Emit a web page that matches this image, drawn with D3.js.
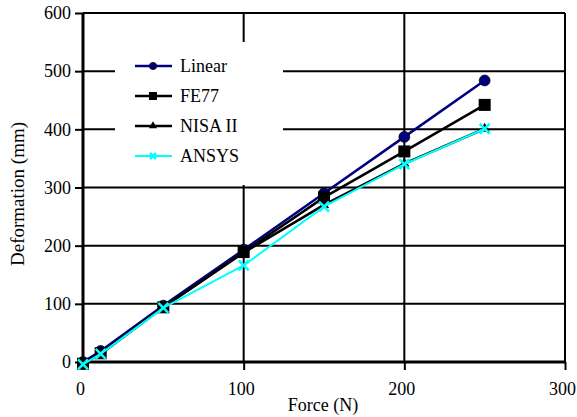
<!DOCTYPE html>
<html>
<head>
<meta charset="utf-8">
<script src="https://cdn.jsdelivr.net/npm/d3@7"></script>
<style>
  body { margin: 0; background: #fff; }
</style>
</head>
<body>
<script>
// data
const force = [0, 11, 50, 100, 150, 200, 250];
const linear = [0, 19, 97, 193, 290, 387, 484];
const fe77 = [-3, 15, 94, 189, 283, 362, 442];
const nisa = [-3, 14, 94, 188, 270, 341, 401];
const ansys = [-4, 14, 93, 166, 267, 340, 401];
const seriesNames = ["Linear", "FE77", "NISA II", "ANSYS"];
const xTicks = [0, 100, 200, 300];
const yTicks = [0, 100, 200, 300, 400, 500, 600];

const font = "Liberation Serif";
const w = 577;
const h = 417;

const xScale = d3.scaleLinear().domain([0, 300]).range([83, 565]);
const yScale = d3.scaleLinear().domain([0, 600]).range([362, 13]);

const svg = d3.select("body")
  .append("svg")
  .attr("width", w)
  .attr("height", h)
  .attr("font-family", font);

// grid
svg.append("g")
  .selectAll("line")
  .data(yTicks.slice(1, -1))
  .enter()
  .append("line")
  .attr("x1", xScale(0)).attr("x2", xScale(300))
  .attr("y1", (d) => yScale(d)).attr("y2", (d) => yScale(d))
  .attr("stroke", "#000").attr("stroke-width", 2);

svg.append("g")
  .selectAll("line")
  .data(xTicks.slice(1, -1))
  .enter()
  .append("line")
  .attr("y1", yScale(0)).attr("y2", yScale(600))
  .attr("x1", (d) => xScale(d)).attr("x2", (d) => xScale(d))
  .attr("stroke", "#000").attr("stroke-width", 2);

// frame top / right
svg.append("line")
  .attr("x1", xScale(0)).attr("x2", xScale(300))
  .attr("y1", yScale(600)).attr("y2", yScale(600))
  .attr("stroke", "#000").attr("stroke-width", 2);
svg.append("line")
  .attr("x1", xScale(300)).attr("x2", xScale(300))
  .attr("y1", yScale(600)).attr("y2", yScale(0))
  .attr("stroke", "#000").attr("stroke-width", 2);

// legend box hides the grid behind it
svg.append("rect")
  .attr("x", 115).attr("y", 42)
  .attr("width", 168).attr("height", 143)
  .attr("fill", "#fff");

// axes
const xAxis = d3.axisBottom(xScale).tickValues(xTicks).tickSize(8).tickPadding(12);
const yAxis = d3.axisLeft(yScale).tickValues(yTicks).tickSize(8).tickPadding(4);

const gx = svg.append("g")
  .attr("transform", "translate(0," + yScale(0) + ")")
  .call(xAxis);
const gy = svg.append("g")
  .attr("transform", "translate(" + xScale(0) + ",0)")
  .call(yAxis);

[gx, gy].forEach((g) => {
  g.attr("font-family", font);
  g.select(".domain").attr("stroke", "#000").attr("stroke-width", 3);
  g.selectAll(".tick line").attr("stroke", "#000").attr("stroke-width", 2);
  g.selectAll(".tick text")
    .attr("font-size", 18)
    .attr("fill", "#000");
});
gx.selectAll(".tick text").attr("dx", -3);
gx.select(".domain").attr("d", "M" + xScale(0) + ",0H" + xScale(300));
gy.select(".domain").attr("d", "M0," + yScale(0) + "V" + yScale(600));

// axis titles
svg.append("text")
  .text("Force (N)")
  .attr("x", 323).attr("y", 411)
  .attr("text-anchor", "middle")
  .attr("font-size", 18);

svg.append("text")
  .text("Deformation (mm)")
  .attr("transform", "translate(24," + 194 + ") rotate(-90)")
  .attr("text-anchor", "middle")
  .attr("font-size", 19);

// series
const series = [
  { name: seriesNames[0], values: linear, color: "#000080", marker: "circle", width: 2.5 },
  { name: seriesNames[1], values: fe77, color: "#000000", marker: "square", width: 2.5 },
  { name: seriesNames[2], values: nisa, color: "#000000", marker: "triangle", width: 2.5 },
  { name: seriesNames[3], values: ansys, color: "#00ffff", marker: "x", width: 2 }
];

const line = d3.line()
  .x((d) => xScale(d[0]))
  .y((d) => yScale(d[1]));

function drawMarker(g, type, color, size) {
  if (type === "circle") {
    g.append("circle").attr("r", size * 0.45).attr("fill", color).attr("stroke", "#000").attr("stroke-width", 0.8);
  } else if (type === "square") {
    g.append("rect").attr("x", -size / 2).attr("y", -size / 2)
      .attr("width", size).attr("height", size).attr("fill", color);
  } else if (type === "triangle") {
    g.append("path").attr("d", d3.symbol().type(d3.symbolTriangle).size(size * size * 0.45)).attr("fill", color);
  } else {
    const s = size / 2;
    g.append("path").attr("d", "M" + (-s) + "," + (-s) + "L" + s + "," + s + "M" + (-s) + "," + s + "L" + s + "," + (-s))
      .attr("stroke", color).attr("stroke-width", 2.5).attr("fill", "none");
  }
}

series.forEach((s) => {
  const pts = force.map((f, i) => [f, s.values[i]]);
  svg.append("path")
    .datum(pts)
    .attr("d", line)
    .attr("fill", "none")
    .attr("stroke", s.color)
    .attr("stroke-width", s.width);
  pts.forEach((p) => {
    const g = svg.append("g").attr("transform", "translate(" + xScale(p[0]) + "," + yScale(p[1]) + ")");
    drawMarker(g, s.marker, s.color, s.marker === "x" ? 10 : (s.marker === "triangle" ? 10 : 12));
  });
});

// legend
const legend = svg.append("g");
series.forEach((s, i) => {
  const y = 66 + i * 30;
  legend.append("line")
    .attr("x1", 135).attr("x2", 172)
    .attr("y1", y).attr("y2", y)
    .attr("stroke", s.color).attr("stroke-width", s.width);
  const g = legend.append("g").attr("transform", "translate(153," + y + ")");
  drawMarker(g, s.marker, s.color, s.marker === "x" ? 6 : 8);
  legend.append("text")
    .text(s.name)
    .attr("x", 180).attr("y", y + 6)
    .attr("font-size", 18);
});
</script>
</body>
</html>
